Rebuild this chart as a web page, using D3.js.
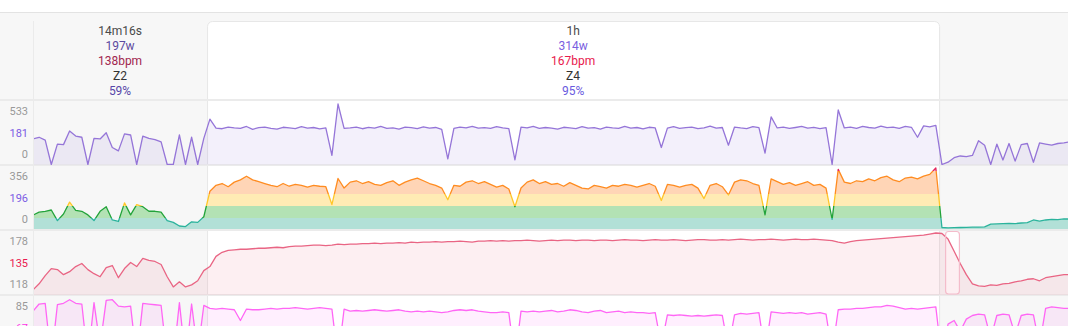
<!DOCTYPE html>
<html>
<head>
<meta charset="utf-8">
<script src="https://cdn.jsdelivr.net/npm/d3@7"></script>
<style>
body { margin: 0; background: #fff; }
</style>
</head>
<body>
<div id="chart-area"></div>
<script>
/*
*    ride analysis strip: power / zones / heart rate / cadence
*/
var step = 30;          // seconds between samples
var totalTime = 5090;   // seconds visible

// segments (seconds)
var segStart = [0, 856, 4456];
var segEnd   = [856, 4456, 5090];
var segDuration = ["14m16s", "1h"];
var segPower    = ["197w", "314w"];
var segHr       = ["138bpm", "167bpm"];
var segZone     = ["Z2", "Z4"];
var segPct      = ["59%", "95%"];
var selected = 1;
var markerRange = [4488, 4556];

// tick labels: max, average, min
var powerTicks   = [533, 181, 0];
var zoneTicks    = [356, 196, 0];
var hrTicks      = [178, 135, 118];
var cadenceTicks = [85, 67, 0];

// zone limits (watts)
var zoneLimits = [0, 183, 249, 299, 349, 356];

var power = [225, 240, 215, 0, 180, 175, 295, 250, 240, 0, 230, 225, 280, 150, 120, 270, 260, 0, 250, 230,
    220, 200, 0, 0, 260, 0, 240, 0, 230,
    400, 320, 315, 330, 322, 318, 335, 310, 325, 330, 318, 312, 328, 322, 316, 333, 320, 326, 314, 322,
    80, 533, 318, 322, 330, 315, 327, 320, 335, 318, 322, 312, 330, 325, 317, 332, 320, 326, 310, 50,
    318, 330, 322, 336, 320, 325, 318, 334, 322, 316, 40, 330, 322, 335, 318, 326, 320, 312, 328, 322,
    316, 334, 320, 325, 312, 330, 322, 318, 336, 320, 326, 314, 328, 322, 150, 320, 334, 318, 325, 330,
    316, 322, 338, 320, 326, 170, 330, 322, 316, 334, 325, 100, 420, 322, 330, 318, 326, 335, 320, 328,
    316, 325, 0, 480, 322, 330, 318, 335, 326, 320, 338, 325, 330, 318, 336, 328, 240, 340, 332, 345,
    0, 20, 60, 75, 70, 80, 210, 170, 0, 180, 40, 185, 30, 175, 185, 20, 190, 180, 170, 185, 190, 200];

var zonePower = [199, 215, 220, 227, 140, 205, 265, 225, 220, 200, 140, 220, 245, 150, 125, 262, 200, 255, 245, 220,
    220, 215, 140, 110, 50, 40, 120, 110, 190,
    305, 318, 322, 315, 325, 330, 338, 330, 326, 322, 318, 315, 322, 316, 320, 318, 314, 318, 316, 315,
    255, 333, 312, 325, 328, 322, 326, 320, 318, 324, 328, 318, 325, 330, 334, 328, 322, 318, 312, 275,
    318, 316, 325, 328, 322, 326, 320, 314, 318, 310, 245, 312, 325, 330, 322, 326, 320, 322, 316, 324,
    318, 312, 310, 318, 315, 312, 318, 316, 320, 318, 314, 318, 322, 316, 272, 320, 318, 314, 318, 320,
    312, 280, 318, 322, 315, 295, 325, 330, 328, 322, 318, 200, 332, 326, 320, 324, 318, 322, 326, 318,
    320, 312, 160, 353, 325, 322, 328, 326, 332, 328, 335, 338, 330, 326, 334, 336, 332, 338, 342, 356,
    25, 20, 22, 25, 28, 30, 32, 35, 80, 85, 90, 95, 90, 100, 105, 150, 130, 150, 160, 155, 170, 165];

var heartRate = [122, 128, 136, 143, 142, 137, 140, 145, 148, 142, 138, 135, 144, 146, 134, 143, 149, 145, 153, 151,
    150, 147, 135, 125, 130, 125, 127, 131, 141,
    145, 155, 159, 161, 161.5, 162, 162, 162.5, 163,
    163, 163.5, 164, 163.5, 164.5, 165, 165, 165.5, 166, 166, 165.5, 166, 167, 166.5, 167, 167, 167.5, 167.5,
    168, 167.5, 168, 168, 168.5,
    168, 169, 168.5, 169, 169, 169.5, 169, 169.5, 169.5, 170, 169.5, 169, 170, 170, 170.5, 170, 170.5, 170,
    170.5, 170.5, 171, 170.5, 170, 170.5, 171, 170.5, 171, 171, 170.5, 171, 171, 170.5, 171,
    171, 170.5, 171, 171.5, 171, 171, 170.5, 171, 171.5, 171, 171, 171.5, 171, 170.5, 171, 171.5, 171.5, 171,
    171, 171.5, 171, 171.5, 172, 171.5, 171, 171.5, 171.5, 172, 171.5, 171, 171.5, 172, 171.5, 171.5, 172,
    171.5, 171,
    170.5, 169, 168, 169.5, 170.5, 171, 171.5, 172, 172.5, 173, 173.5, 174, 174.5, 175, 175.5, 176, 177, 178, 177.5,
    172, 160, 148, 137, 128, 126, 125.5, 127, 126.5, 128, 128.5, 130, 131, 132.5, 133, 131, 134, 135, 136, 137, 137];

var cadence = [68, 78, 79, 0, 77, 79, 84, 79, 78, 0, 80, 20, 83, 84, 75, 74, 75, 0, 79, 78,
    77, 76, 0, 0, 80, 0, 78, 10, 76,
    72, 71, 72, 71, 70, 55, 71, 70, 70, 71, 72, 71, 72, 72, 73, 72, 71, 72, 73, 72, 71, 0, 71,
    68, 69, 68, 69, 70, 69, 68, 69, 70, 68, 67, 68, 67, 68, 67, 66,
    67, 69, 70, 69, 70, 68, 67, 66, 66, 67, 66, 0, 68, 67, 68, 67, 68, 69, 67, 68,
    70, 69, 67, 66, 68, 69, 66, 67, 68, 66, 67, 66, 66, 65, 66, 20, 63, 62, 63, 62,
    61, 62, 61, 62, 63, 62, 15, 63, 65, 64, 65, 66, 10, 67, 66, 65, 66, 65, 66, 64,
    65, 66, 64, 10, 70, 71, 71, 72, 72, 73, 74, 74, 76, 75, 73, 71, 72, 71, 72, 73, 74,
    0, 50, 55, 40, 57, 62, 64, 63, 30, 62, 64, 63, 35, 62, 64, 63, 20, 72, 74, 73, 72, 72];

var width = 1068, height = 326;
var plotLeft = 33;
var panelTop = [100, 165, 230, 295];
var panelH = 65;

var svg = d3.select("#chart-area")
    .append("svg")
        .attr("width", width)
        .attr("height", height)
        .style("font-family", "Roboto, sans-serif");

var defs = svg.append("defs");

var x = d3.scaleLinear()
    .domain([0, totalTime])
    .range([plotLeft, width]);

var yPower = d3.scaleLinear().domain([0, 533]).range([164.5, 104]);
var yZone = d3.scaleLinear()
    .domain([0, 183, 249, 299, 356])
    .range([229, 218, 206, 194, 168]);
var yHr = d3.scaleLinear().domain([118, 178]).range([294, 233]);
var yCad = d3.scaleLinear().domain([0, 85]).range([360, 299]);

// backgrounds
svg.append("rect").attr("width", width).attr("height", height).attr("fill", "#fff");
svg.append("rect")
    .attr("y", 12.5)
    .attr("width", width)
    .attr("height", height)
    .attr("fill", "#f7f7f7");
svg.append("line")
    .attr("x1", 0).attr("x2", width)
    .attr("y1", 12.5).attr("y2", 12.5)
    .attr("stroke", "#e3e3e3");

// selected segment box
svg.append("rect")
    .attr("x", x(segStart[selected]) + 0.5)
    .attr("y", 21.5)
    .attr("width", x(segEnd[selected]) - x(segStart[selected]))
    .attr("height", 400)
    .attr("rx", 5)
    .attr("fill", "#fff")
    .attr("stroke", "#e7e7e7");

// left axis divider
svg.append("line")
    .attr("x1", plotLeft + 0.5).attr("x2", plotLeft + 0.5)
    .attr("y1", 21).attr("y2", height)
    .attr("stroke", "#ebebeb");

// panel separators
svg.selectAll(".sep").data(panelTop).enter()
    .append("line")
        .attr("class", "sep")
        .attr("x1", 0).attr("x2", width)
        .attr("y1", function(d){ return d; })
        .attr("y2", function(d){ return d; })
        .attr("stroke", "#ebebeb")
        .attr("stroke-width", 2);

// header labels
var headColors = [
    ["#4a4a4a", "#5c4a9f", "#a1264f", "#333", "#5646a8"],
    ["#4a4a4a", "#7a5fe0", "#e8194d", "#333", "#6a5be0"]
];
[0, 1].forEach(function(s){
    var lines = [segDuration[s], segPower[s], segHr[s], segZone[s], segPct[s]];
    var cx = (x(segStart[s]) + x(segEnd[s])) / 2;
    svg.selectAll(".head" + s).data(lines).enter()
        .append("text")
            .attr("class", "head" + s)
            .attr("x", cx)
            .attr("y", function(d, i){ return 35 + i * 15; })
            .attr("text-anchor", "middle")
            .attr("font-size", "12px")
            .attr("fill", function(d, i){ return headColors[s][i]; })
            .text(function(d){ return d; });
});

function clipFor(id, p){
    defs.append("clipPath").attr("id", id)
        .append("rect")
            .attr("x", plotLeft + 1)
            .attr("y", panelTop[p] + 1)
            .attr("width", width - plotLeft)
            .attr("height", panelH - 1);
    return "url(#" + id + ")";
}

function tx(d, i){ return x(i * step); }

function drawSeries(values, yScale, base, p, lineColor, fillColor){
    var g = svg.append("g").attr("clip-path", clipFor("clip" + p, p));
    var area = d3.area()
        .x(tx)
        .y0(yScale(base))
        .y1(function(d){ return yScale(d); });
    var line = d3.line()
        .x(tx)
        .y(function(d){ return yScale(d); });
    g.append("path")
        .attr("d", area(values))
        .attr("fill", fillColor);
    g.append("path")
        .attr("d", line(values))
        .attr("fill", "none")
        .attr("stroke", lineColor)
        .attr("stroke-width", 1.3)
        .attr("stroke-linejoin", "round");
    return g;
}

// power
drawSeries(power, yPower, 0, 0, "#9575d8", "rgba(149,117,216,0.11)");

// zones
var bandFill = ["#b2e0d7", "#b3e2b4", "#ffebb4", "#ffd5b6", "#f9bfd0"];
var zoneLine = ["#2bb39c", "#23a33a", "#ffc72a", "#ff8c21", "#e4235c"];

var zoneArea = d3.area()
    .x(tx)
    .y0(yZone(0))
    .y1(function(d){ return yZone(d); });
defs.append("clipPath").attr("id", "zoneClip")
    .append("path").attr("d", zoneArea(zonePower));

var grad = defs.append("linearGradient")
    .attr("id", "zoneGrad")
    .attr("gradientUnits", "userSpaceOnUse")
    .attr("x1", 0).attr("x2", 0)
    .attr("y1", yZone(0)).attr("y2", yZone(356));
var zoneSpan = yZone(0) - yZone(356);
zoneLine.forEach(function(c, i){
    var o1 = (yZone(0) - yZone(zoneLimits[i])) / zoneSpan;
    var o2 = (yZone(0) - yZone(zoneLimits[i + 1])) / zoneSpan;
    grad.append("stop").attr("offset", o1).attr("stop-color", c);
    grad.append("stop").attr("offset", o2).attr("stop-color", c);
});

var zg = svg.append("g").attr("clip-path", clipFor("clip1", 1));
zg.append("g").attr("clip-path", "url(#zoneClip)")
    .selectAll("rect").data(bandFill).enter()
    .append("rect")
        .attr("x", plotLeft)
        .attr("width", width - plotLeft)
        .attr("y", function(d, i){ return yZone(Math.min(zoneLimits[i + 1], 356)) - (i == 4 ? 6 : 0); })
        .attr("height", function(d, i){
            return yZone(zoneLimits[i]) - yZone(zoneLimits[i + 1]) + (i == 4 ? 6 : 0);
        })
        .attr("fill", function(d){ return d; });
zg.append("path")
    .attr("d", d3.line().x(tx).y(function(d){ return yZone(d); })(zonePower))
    .attr("fill", "none")
    .attr("stroke", "url(#zoneGrad)")
    .attr("stroke-width", 1.3)
    .attr("stroke-linejoin", "round");

// hover marker on heart rate
svg.append("rect")
    .attr("x", x(markerRange[0]))
    .attr("y", panelTop[2] + 1.5)
    .attr("width", x(markerRange[1]) - x(markerRange[0]))
    .attr("height", panelH - 2.5)
    .attr("rx", 3)
    .attr("fill", "#fff");

// heart rate
drawSeries(heartRate, yHr, 100, 2, "#e96584", "rgba(233,101,132,0.1)");

svg.append("rect")
    .attr("x", x(markerRange[0]))
    .attr("y", panelTop[2] + 1.5)
    .attr("width", x(markerRange[1]) - x(markerRange[0]))
    .attr("height", panelH - 2.5)
    .attr("rx", 3)
    .attr("fill", "none")
    .attr("stroke", "#f4bccb")
    .attr("stroke-width", 1.2);

// cadence
drawSeries(cadence, yCad, 0, 3, "#ff66f5", "rgba(255,102,245,0.1)");

// tick labels
var tickSets = [powerTicks, zoneTicks, hrTicks, cadenceTicks];
var avgColors = ["#7c5ce4", "#7c5ce4", "#ea1a50", "#ff33e6"];
tickSets.forEach(function(ticks, p){
    var ty = d3.scalePoint()
        .domain(ticks.map(function(d, i){ return i; }))
        .range([panelTop[p] + 11, panelTop[p] + 54]);
    svg.selectAll(".tick" + p).data(ticks).enter()
        .append("text")
            .attr("class", "tick" + p)
            .attr("x", 28)
            .attr("y", function(d, i){ return ty(i) + 4; })
            .attr("text-anchor", "end")
            .attr("font-size", "11px")
            .attr("fill", function(d, i){ return i == 1 ? avgColors[p] : "#999"; })
            .text(function(d){ return d; });
});
</script>
</body>
</html>
